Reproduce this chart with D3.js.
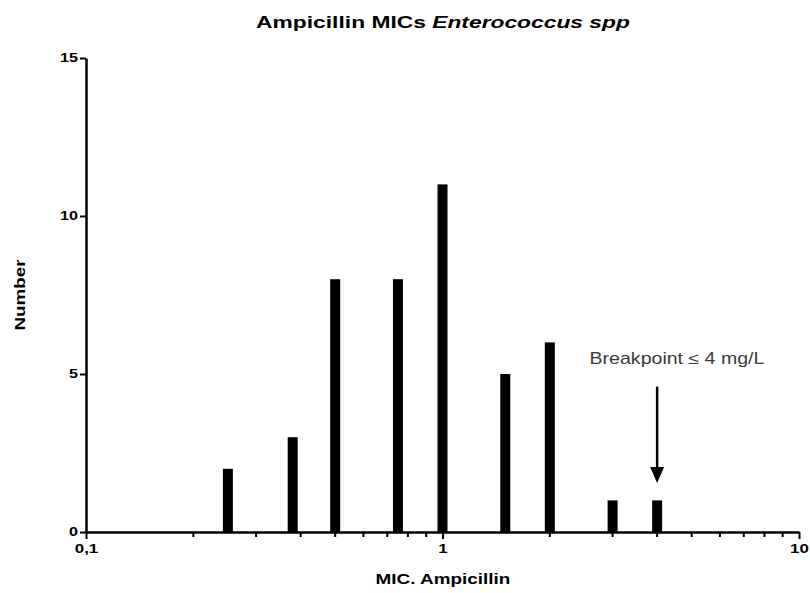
<!DOCTYPE html>
<html>
<head>
<meta charset="utf-8">
<script src="https://cdn.jsdelivr.net/npm/d3@7"></script>
<style>
  html, body { margin: 0; padding: 0; background: #fff; }
  svg { display: block; }
  text { font-family: "Liberation Sans", Arial, Helvetica, sans-serif; }
</style>
</head>
<body>
<svg id="chart" width="810" height="593"></svg>
<script>
// MIC values (mg/L) and number of isolates at each value
const micValues = [0.25, 0.38, 0.5, 0.75, 1, 1.5, 2, 3, 4];
const counts    = [2, 3, 8, 8, 11, 5, 6, 1, 1];

// axis ticks
const yTicks = [0, 5, 10, 15];
const xMajorTicks = [0.1, 1, 10];
const xMajorLabels = ["0,1", "1", "10"];

const breakpointMic = 4;
const breakpointText = "Breakpoint \u2264 4 mg/L";

const svg = d3.select("#chart");
const margin = { left: 86, right: 11, top: 58, bottom: 61 };
const W = 810, H = 593;

const x = d3.scaleLog()
  .domain([0.1, 10])
  .range([margin.left, W - margin.right]);

const y = d3.scaleLinear()
  .domain([0, 15])
  .range([H - margin.bottom, margin.top]);

// widen a text element horizontally about a fixed x, keeping its height
function widen(sel, k, cx) {
  sel.attr("transform", `translate(${cx},0) scale(${k},1) translate(${-cx},0)`);
}
function widenTo(sel, target, cx) {
  const w = sel.node().getBBox().width;
  widen(sel, target / w, cx);
}

// bars
const barW = 10;
svg.append("g")
  .selectAll("rect")
  .data(micValues.map((m, i) => ({ m, c: counts[i] })))
  .join("rect")
  .attr("x", d => x(d.m) - barW / 2)
  .attr("y", d => y(d.c))
  .attr("width", barW)
  .attr("height", d => y(0) - y(d.c))
  .attr("fill", "#000");

// minor x ticks (2..9 within each decade)
const minorTicks = [];
for (const dec of [0.1, 1]) for (let k = 2; k <= 9; k++) minorTicks.push(+(dec * k).toFixed(3));

const axisG = svg.append("g");

// x axis
const xAxis = d3.axisBottom(x)
  .tickValues(xMajorTicks)
  .tickFormat((d, i) => xMajorLabels[i])
  .tickSizeInner(7)
  .tickSizeOuter(0)
  .tickPadding(5);
const gx = axisG.append("g")
  .attr("transform", `translate(0,${y(0)})`)
  .call(xAxis);
gx.select(".domain").attr("stroke-width", 2.5).attr("stroke", "#000");
gx.selectAll(".tick line").attr("stroke-width", 2).attr("stroke", "#000");
gx.selectAll(".tick text")
  .attr("font-size", 13).attr("font-weight", "bold").attr("fill", "#000")
  .attr("font-family", "Liberation Sans, Arial, sans-serif")
  .each(function () { widen(d3.select(this), 1.3, 0); });

gx.append("g").selectAll("line")
  .data(minorTicks)
  .join("line")
  .attr("x1", d => x(d)).attr("x2", d => x(d))
  .attr("y1", 0).attr("y2", 5)
  .attr("stroke", "#000").attr("stroke-width", 2);

// y axis
const yAxis = d3.axisLeft(y)
  .tickValues(yTicks)
  .tickSizeInner(6)
  .tickSizeOuter(0)
  .tickPadding(2);
const gy = axisG.append("g")
  .attr("transform", `translate(${x(0.1)},0)`)
  .call(yAxis);
gy.select(".domain").attr("stroke-width", 2.5).attr("stroke", "#000");
gy.selectAll(".tick line").attr("stroke-width", 2).attr("stroke", "#000");
gy.selectAll(".tick text")
  .attr("font-size", 12).attr("font-weight", "bold").attr("fill", "#000")
  .attr("font-family", "Liberation Sans, Arial, sans-serif")
  .each(function () { widen(d3.select(this), 1.35, -8); });

// title
const title = svg.append("text")
  .attr("x", 443).attr("y", 28)
  .attr("text-anchor", "middle")
  .attr("font-size", 17).attr("font-weight", "bold").attr("fill", "#000");
title.append("tspan").text("Ampicillin MICs ");
title.append("tspan").attr("font-style", "italic").text("Enterococcus spp");
widenTo(title, 374, 443);

// axis titles
const xTitle = svg.append("text")
  .attr("x", 443).attr("y", 584)
  .attr("text-anchor", "middle")
  .attr("font-size", 14).attr("font-weight", "bold").attr("fill", "#000")
  .text("MIC. Ampicillin");
widenTo(xTitle, 135, 443);

const yCenter = (y(0) + y(15)) / 2;
const yTitleG = svg.append("g")
  .attr("transform", `translate(25,${yCenter}) rotate(-90)`);
const yTitle = yTitleG.append("text")
  .attr("x", 0).attr("y", 0)
  .attr("text-anchor", "middle")
  .attr("font-size", 14).attr("font-weight", "bold").attr("fill", "#000")
  .text("Number");
widenTo(yTitle, 72, 0);

// breakpoint annotation
const bx = x(breakpointMic);
const note = svg.append("text")
  .attr("x", 677).attr("y", 364)
  .attr("text-anchor", "middle")
  .attr("font-size", 16).attr("fill", "#3a3a3a")
  .text(breakpointText);
widenTo(note, 175, 677);

const tipY = y(1.55);
svg.append("line")
  .attr("x1", bx).attr("x2", bx)
  .attr("y1", y(4.6)).attr("y2", tipY - 10)
  .attr("stroke", "#000").attr("stroke-width", 2.5);
svg.append("path")
  .attr("d", `M${bx - 7},${tipY - 16} L${bx + 7},${tipY - 16} L${bx},${tipY} Z`)
  .attr("fill", "#000");
</script>
</body>
</html>
